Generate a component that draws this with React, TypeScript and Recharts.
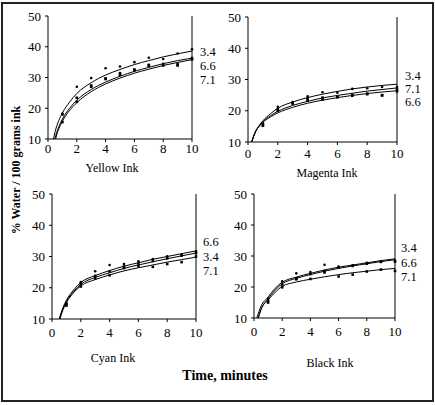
import React from 'react';
import { ComposedChart, Line, Scatter, XAxis, YAxis, ReferenceLine } from 'recharts';

type Pt = { t: number; v: number };
const mk = (arr: number[][]): Pt[] => arr.map(([t, v]) => ({ t, v }));

// ---------- data ----------
const xTicks = [0, 2, 4, 6, 8, 10];
const yTicks = [10, 20, 30, 40, 50];

// Yellow ink
const yellowCurve34 = [[0.38, 10], [0.5, 12.5], [0.75, 16], [1, 18.5], [1.5, 22], [2, 24.8], [3, 28.3], [4, 30.8], [5, 32.6], [6, 34.2], [7, 35.5], [8, 36.7], [9, 37.7], [10, 38.6]];
const yellowCurve66 = [[0.47, 10], [0.6, 12.1], [0.75, 14], [1, 16.5], [1.5, 20], [2, 22.6], [3, 26.1], [4, 28.5], [5, 30.4], [6, 32], [7, 33.3], [8, 34.5], [9, 35.5], [10, 36.3]];
const yellowCurve71 = [[0.53, 10], [0.6, 11.3], [0.75, 13.3], [1, 15.8], [1.5, 19.3], [2, 21.8], [3, 25.4], [4, 27.9], [5, 29.8], [6, 31.4], [7, 32.7], [8, 33.9], [9, 34.9], [10, 35.8]];
const yellowPts34 = [[1, 18.3], [2, 27], [3, 29.8], [4, 33], [5, 33.6], [6, 35], [7, 36.4], [8, 36], [9, 37.8], [10, 39.2]];
const yellowPts66 = [[1, 18], [2, 23.4], [3, 27.4], [4, 29.7], [5, 31.4], [6, 32.6], [7, 34.1], [8, 34.4], [9, 34.4], [10, 36.3]];
const yellowPts71 = [[1, 15.5], [2, 22.1], [3, 27], [4, 29.5], [5, 30.9], [6, 32.3], [7, 33.8], [8, 33.9], [9, 33.9], [10, 35.9]];

// Magenta ink
const magentaCurve34 = [[0.25, 10], [0.5, 13.3], [0.75, 15.3], [1, 16.8], [1.5, 19], [2, 20.8], [3, 22.8], [4, 24.2], [5, 25.3], [6, 26.2], [7, 27], [8, 27.6], [9, 28.1], [10, 28.5]];
const magentaCurve71 = [[0.25, 10], [0.5, 13.2], [0.75, 15.1], [1, 16.5], [1.5, 18.4], [2, 19.8], [3, 21.7], [4, 23], [5, 24.1], [6, 24.9], [7, 25.6], [8, 26.3], [9, 26.8], [10, 27.3]];
const magentaCurve66 = [[0.25, 10.2], [0.5, 13.3], [0.75, 15], [1, 16.3], [1.5, 18], [2, 19.3], [3, 21.1], [4, 22.4], [5, 23.4], [6, 24.2], [7, 24.9], [8, 25.5], [9, 26], [10, 26.4]];
const magentaPts34 = [[1, 16], [2, 21.3], [3, 22.8], [4, 24.6], [5, 25.9], [6, 25.8], [7, 27], [8, 27.2], [9, 27.6], [10, 27.6]];
const magentaPts71 = [[1, 15.5], [2, 20.5], [3, 22.5], [4, 23.8], [5, 24.2], [6, 24.5], [7, 25.1], [8, 25.5], [9, 25], [10, 26.8]];
const magentaPts66 = [[1, 15.2], [2, 20], [3, 22.3], [4, 23.2], [5, 23.6], [6, 24.3], [7, 24.8], [8, 25.3], [9, 24.9], [10, 26.2]];

// Cyan ink
const cyanCurve66 = [[0.5, 10], [0.75, 13.5], [1, 16], [1.5, 19.3], [2, 21.7], [3, 23.9], [4, 25.5], [5, 26.9], [6, 28], [7, 29.1], [8, 30], [9, 30.9], [10, 31.8]];
const cyanCurve34 = [[0.52, 10], [0.75, 13.2], [1, 15.6], [1.5, 18.8], [2, 21.1], [3, 23.3], [4, 24.8], [5, 26.2], [6, 27.3], [7, 28.3], [8, 29.3], [9, 30.2], [10, 31.1]];
const cyanCurve71 = [[0.55, 10], [0.75, 12.8], [1, 15.2], [1.5, 18.4], [2, 20.6], [3, 22.6], [4, 24.1], [5, 25.4], [6, 26.4], [7, 27.3], [8, 28.2], [9, 29], [10, 29.8]];
const cyanPts66 = [[1, 15], [2, 21.8], [3, 25.3], [4, 27.3], [5, 27.6], [6, 28.5], [7, 29.2], [8, 30.1], [9, 30.6], [10, 31.7]];
const cyanPts34 = [[1, 14.8], [2, 21.2], [3, 23.8], [4, 25.2], [5, 26.8], [6, 27.7], [7, 28.6], [8, 29.4], [9, 30.3], [10, 31.1]];
const cyanPts71 = [[1, 14.3], [2, 20.4], [3, 23], [4, 24], [5, 26.3], [6, 26.9], [7, 26.7], [8, 27.6], [9, 28.2], [10, 30]];

// Black ink
const blackCurve34 = [[0.2, 10], [0.5, 13.8], [1, 16.8], [1.5, 19.6], [2, 21.5], [3, 23.2], [4, 24.4], [5, 25.5], [6, 26.4], [7, 27.1], [8, 27.8], [9, 28.5], [10, 29.1]];
const blackCurve66 = [[0.3, 10], [0.5, 12.8], [1, 16.2], [1.5, 19], [2, 21], [3, 22.8], [4, 24], [5, 25.1], [6, 26], [7, 26.8], [8, 27.5], [9, 28.2], [10, 28.8]];
const blackCurve71 = [[0.3, 10], [0.5, 12.8], [1, 15.8], [1.5, 18.3], [2, 20.2], [3, 21.6], [4, 22.5], [5, 23.3], [6, 24], [7, 24.6], [8, 25.1], [9, 25.6], [10, 26]];
const blackPts34 = [[1, 16.2], [2, 21.8], [3, 24.4], [4, 24.8], [5, 27.2], [6, 26.6], [7, 27], [8, 27.8], [9, 28.2], [10, 28.5]];
const blackPts66 = [[1, 15.6], [2, 20.8], [3, 22.8], [4, 24.2], [5, 25.1], [6, 26.3], [7, 26.8], [8, 27.5], [9, 28.1], [10, 28.2]];
const blackPts71 = [[1, 15], [2, 19.9], [3, 22.5], [4, 22.6], [5, 24.7], [6, 23.4], [7, 24], [8, 25], [9, 25.6], [10, 25.2]];

// ---------- rendering ----------
const FONT = '"Liberation Serif", serif';

const Dot = (props: any) => {
  const { cx, cy } = props;
  if (cx == null || cy == null) return null;
  return <circle cx={cx} cy={cy} r={1.3} fill="#000" />;
};
const Sq = (props: any) => {
  const { cx, cy } = props;
  if (cx == null || cy == null) return null;
  return <rect x={cx - 1.3} y={cy - 1.3} width={2.6} height={2.6} fill="#000" />;
};

const XTick = (props: any) => (
  <text x={props.x} y={props.y} dy="0.71em" textAnchor="middle" fontFamily={FONT} fontSize={13} fill="#000">
    {props.payload?.value}
  </text>
);
const YTick = (props: any) => (
  <text x={props.x} y={props.y} dy="0.355em" textAnchor="end" fontFamily={FONT} fontSize={13} fill="#000">
    {props.payload?.value}
  </text>
);

type PanelProps = {
  x0: number; y0: number; w: number; h: number; xTickMargin: number;
  curves: number[][][]; points: number[][][];
  title: string; titleX: number; titleY: number;
  labels: string[]; labelX: number; labelYs: number[];
};

const Panel = (p: PanelProps) => {
  const ml = 40, mt = 10, mr = 8, xh = 26;
  return (
    <>
      <div style={{ position: 'absolute', left: p.x0 - ml, top: p.y0 - mt }}>
        <ComposedChart width={p.w + ml + mr} height={p.h + mt + xh} margin={{ top: mt, right: mr, left: 0, bottom: 0 }}>
          <XAxis type="number" dataKey="t" domain={[0, 10]} ticks={xTicks} interval={0} height={xh}
            tick={<XTick />} tickSize={3} tickMargin={p.xTickMargin} stroke="#000" axisLine={{ stroke: '#000' }} tickLine={{ stroke: '#000' }} />
          <YAxis type="number" dataKey="v" domain={[10, 50]} ticks={yTicks} interval={0} width={ml}
            tick={<YTick />} tickSize={3} tickMargin={4} stroke="#000" axisLine={{ stroke: '#000' }} tickLine={{ stroke: '#000' }} />
          <ReferenceLine x={10} stroke="#000" strokeWidth={1} />
          {p.curves.map((c, i) => (
            <Line key={'c' + i} data={mk(c)} dataKey="v" type="monotone" stroke="#000" strokeWidth={1}
              dot={false} activeDot={false} isAnimationActive={false} />
          ))}
          {p.points.map((s, i) => (
            <Scatter key={'s' + i} data={mk(s)} dataKey="v" shape={i === 0 ? Dot : Sq} isAnimationActive={false} />
          ))}
        </ComposedChart>
      </div>
      <div style={{ position: 'absolute', left: p.titleX - 60, top: p.titleY - 7, width: 120, textAlign: 'center', fontFamily: FONT, fontSize: 12, lineHeight: '14px' }}>
        {p.title}
      </div>
      {p.labels.map((l, i) => (
        <div key={l + i} style={{ position: 'absolute', left: p.labelX, top: p.labelYs[i] - 5, fontFamily: FONT, fontSize: 12.5, lineHeight: '10px' }}>
          {l}
        </div>
      ))}
    </>
  );
};

export default function App() {
  return (
    <div style={{ position: 'fixed', left: 0, top: 0, width: 435, height: 405, background: '#fff', overflow: 'hidden' }}>
      <div style={{ position: 'absolute', left: 1, top: 2, width: 429, height: 396, border: '2px solid #222' }} />
      <Panel x0={48} y0={16} w={144} h={123} xTickMargin={2}
        curves={[yellowCurve34, yellowCurve66, yellowCurve71]} points={[yellowPts34, yellowPts66, yellowPts71]}
        title="Yellow Ink" titleX={112} titleY={168}
        labels={['3.4', '6.6', '7.1']} labelX={200} labelYs={[52, 66, 80]} />
      <Panel x0={248} y0={17} w={149} h={125} xTickMargin={4}
        curves={[magentaCurve34, magentaCurve71, magentaCurve66]} points={[magentaPts34, magentaPts71, magentaPts66]}
        title="Magenta Ink" titleX={327} titleY={173}
        labels={['3.4', '7.1', '6.6']} labelX={405} labelYs={[76, 89, 102]} />
      <Panel x0={52} y0={194} w={144} h={125} xTickMargin={6}
        curves={[cyanCurve66, cyanCurve34, cyanCurve71]} points={[cyanPts66, cyanPts34, cyanPts71]}
        title="Cyan Ink" titleX={113} titleY={358}
        labels={['6.6', '3.4', '7.1']} labelX={203} labelYs={[242, 257, 271]} />
      <Panel x0={254} y0={194} w={141} h={124} xTickMargin={6}
        curves={[blackCurve34, blackCurve66, blackCurve71]} points={[blackPts34, blackPts66, blackPts71]}
        title="Black Ink" titleX={330} titleY={363}
        labels={['3.4', '6.6', '7.1']} labelX={401} labelYs={[248, 263, 277]} />
      <div style={{ position: 'absolute', left: 125, top: 367, width: 200, textAlign: 'center', fontFamily: FONT, fontSize: 14, fontWeight: 'bold', lineHeight: '18px' }}>
        Time, minutes
      </div>
      <div style={{ position: 'absolute', left: 16 - 100, top: 170 - 8, width: 200, textAlign: 'center', fontFamily: FONT, fontSize: 12, fontWeight: 'bold', lineHeight: '16px', transform: 'rotate(-90deg)', transformOrigin: '50% 50%' }}>
        % Water / 100 grams ink
      </div>
    </div>
  );
}
